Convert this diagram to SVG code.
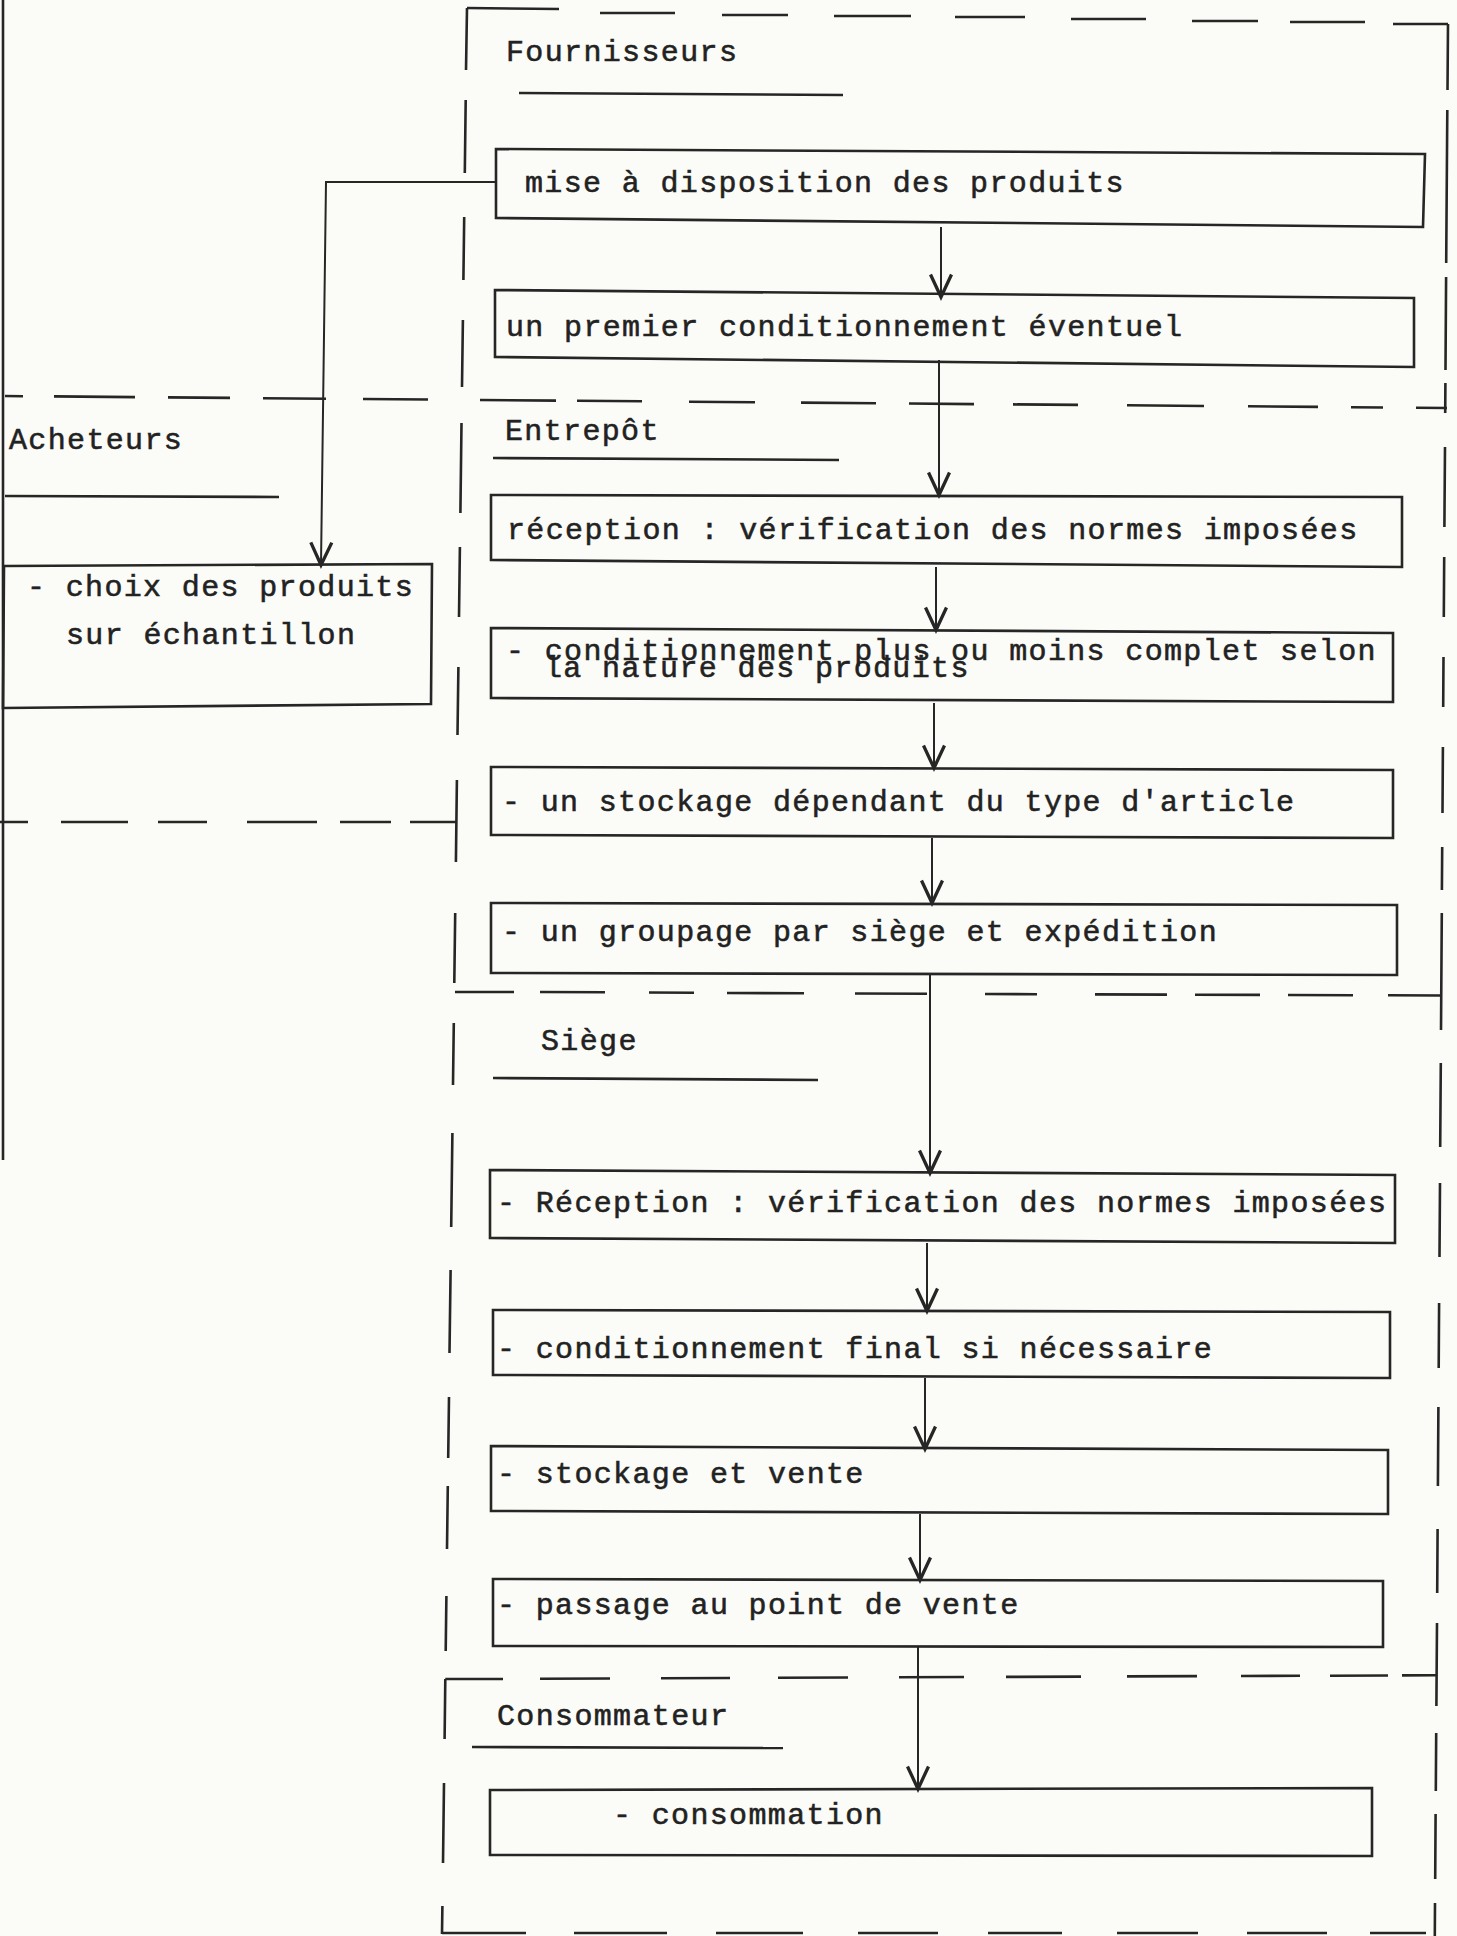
<svg xmlns="http://www.w3.org/2000/svg" width="1457" height="1936" viewBox="0 0 1457 1936">
<style>
.bx{fill:none;stroke:#262626;stroke-width:2.6;stroke-linejoin:miter}
.fr{fill:none;stroke:#262626;stroke-width:2.6;stroke-linecap:butt}
.ul{fill:none;stroke:#262626;stroke-width:2.6}
.cn{fill:none;stroke:#262626;stroke-width:2}
.t{font-family:"Liberation Mono","DejaVu Sans Mono",monospace;font-size:30px;letter-spacing:1.35px;fill:#222;stroke:#222;stroke-width:0.55}
</style>
<defs>
<marker id="ah" markerUnits="userSpaceOnUse" markerWidth="30" markerHeight="30" viewBox="-16 -10 20 20" refX="0" refY="0" orient="auto" overflow="visible">
<path d="M-15,-7 L0,0 L-15,7" fill="none" stroke="#262626" stroke-width="2.2"/>
</marker>
</defs>
<rect x="0" y="0" width="1457" height="1936" fill="#fbfbf7"/>

<g id="frame">
<path class="fr" d="M3,0 L3,1160" stroke-width="2"/>
<path class="fr" d="M467,8 L559,9 M600,13 L675,13 M722,15 L788,15 M834,16 L911,16 M955,17 L1025,17 M1071,19 L1146,19 M1192,21 L1258,21 M1290,22 L1365,22 M1393,24 L1448,24"/>
<path class="fr" d="M467,8 L466,70 M465.7,100 L464.8,173 M464.2,217 L463.4,280 M462.9,320 L462,387 M461.5,423 L460.4,513 M459.9,547 L459,617 M458.4,667 L457.5,735 M456.9,780 L455.9,862 M455.2,913 L454.3,983 M453.8,1023 L453,1085 M452.4,1133 L451.2,1227 M450.6,1270 L449.5,1353 M449,1397 L448.2,1458 M447.8,1486 L447,1549 M446.4,1596 L445.7,1651 M445.3,1679 L444.6,1739 M444,1783 L443,1863 M442.4,1906 L442,1934"/>
<path class="fr" d="M1448,24 L1447.5,90 M1447.3,110 L1446.2,263 M1446.1,277 L1445.5,370 M1445.4,383 L1445.2,413 M1445,447 L1444.4,527 M1444.2,557 L1443.8,617 M1443.5,657 L1443.2,707 M1442.9,747 L1442.5,813 M1442.2,847 L1441.9,890 M1441.8,913 L1441,1030 M1440.8,1063 L1440.2,1147 M1440,1183 L1439.5,1257 M1439.1,1303 L1438.7,1368 M1438.4,1407 L1437.9,1486 M1437.6,1529 L1437.2,1593 M1437,1623 L1436.4,1706 M1436.2,1733 L1435.8,1791 M1435.6,1814 L1435.2,1879 M1435,1903 L1434.8,1936"/>
<path class="fr" d="M5,396 L23,396.2 M54,396.4 L135,397.1 M168,397.4 L230,397.9 M263,398.2 L326,398.7 M363,399 L428,399.5 M480,400 L556,400.6 M577,400.8 L642,401.3 M689,401.7 L755,402.3 M801,402.6 L876,403.3 M909,403.5 L974,404.1 M1013,404.4 L1078,404.9 M1127,405.3 L1204,406 M1248,406.3 L1318,406.9 M1351,407.2 L1383,407.5 M1416,407.7 L1447,408"/>
<path class="fr" d="M0,822 L28,822 M61,822 L128,822 M158,822 L207,822 M247,822 L317,822 M340,822 L391,822 M410,822 L457,822"/>
<path class="fr" d="M455,992 L514,992 M540,992 L605,992.3 M649,992.5 L694,992.7 M727,993 L804,993.3 M855,993.5 L927,993.8 M985,994 L1037,994.2 M1095,994.4 L1167,994.6 M1195,994.7 L1260,994.9 M1288,995 L1353,995.2 M1388,995.3 L1441,995.5"/>
<path class="fr" d="M445.3,1679 L503,1679 M540,1678.8 L610,1678.5 M661,1678.3 L730,1678 M778,1677.8 L848,1677.5 M899,1677.3 L964,1677 M1006,1676.9 L1081,1676.6 M1127,1676.4 L1197,1676.1 M1241,1676 L1300,1675.8 M1330,1675.7 L1388,1675.5 M1402,1675.4 L1436,1675.3"/>
<path class="fr" d="M442,1933 L526,1933 M574,1933 L667,1933 M716,1933 L803,1933 M858,1933 L938,1933 M988,1933 L1062,1933 M1117,1933 L1198,1933 M1247,1933 L1327,1933 M1370,1933 L1426,1933"/>
</g>

<g id="lane-fournisseurs">
<text class="t" x="506" y="61">Fournisseurs</text>
<path class="ul" d="M519,93 L843,95"/>
</g>
<g id="lane-entrepot">
<text class="t" x="505" y="440">Entrepôt</text>
<path class="ul" d="M493,458 L839,460"/>
</g>
<g id="lane-acheteurs">
<text class="t" x="9" y="449">Acheteurs</text>
<path class="ul" d="M5,496 L279,497"/>
</g>
<g id="lane-siege">
<text class="t" x="541" y="1050">Siège</text>
<path class="ul" d="M493,1078 L818,1080"/>
</g>
<g id="lane-consommateur">
<text class="t" x="497" y="1725">Consommateur</text>
<path class="ul" d="M472,1747 L783,1748"/>
</g>

<g id="n-mise">
<path class="bx" d="M496,149 L1425,154 L1423,227 L496,218 Z"/>
<text class="t" x="525" y="192">mise à disposition des produits</text>
</g>
<g id="n-premier">
<path class="bx" d="M495,290 L1414,298 L1414,367 L495,357 Z"/>
<text class="t" x="506" y="336">un premier conditionnement éventuel</text>
</g>
<g id="n-choix">
<path class="bx" d="M4,566 L432,564 L431,704 L3,708 Z"/>
<text class="t" x="27" y="596">- choix des produits</text>
<text class="t" x="66" y="644">sur échantillon</text>
</g>
<g id="n-reception">
<path class="bx" d="M491,495 L1402,497 L1402,567 L491,560 Z"/>
<text class="t" x="507" y="539">réception : vérification des normes imposées</text>
</g>
<g id="n-conditionnement">
<path class="bx" d="M491,628 L1393,633 L1393,702 L491,698 Z"/>
<text class="t" x="506" y="660">- conditionnement plus ou moins complet selon</text>
<text class="t" x="544" y="677">la nature des produits</text>
</g>
<g id="n-stockage">
<path class="bx" d="M491,767 L1393,770 L1393,838 L491,835 Z"/>
<text class="t" x="502" y="811">- un stockage dépendant du type d'article</text>
</g>
<g id="n-groupage">
<path class="bx" d="M491,903 L1397,905 L1397,975 L491,973 Z"/>
<text class="t" x="502" y="941">- un groupage par siège et expédition</text>
</g>
<g id="n-reception-siege">
<path class="bx" d="M490,1170 L1395,1175 L1395,1243 L490,1238 Z"/>
<text class="t" x="497" y="1212">- Réception : vérification des normes imposées</text>
</g>
<g id="n-conditionnement-final">
<path class="bx" d="M493,1310 L1390,1312 L1390,1378 L493,1375 Z"/>
<text class="t" x="497" y="1358">- conditionnement final si nécessaire</text>
</g>
<g id="n-stockage-vente">
<path class="bx" d="M491,1446 L1388,1450 L1388,1514 L491,1511 Z"/>
<text class="t" x="497" y="1483">- stockage et vente</text>
</g>
<g id="n-passage">
<path class="bx" d="M493,1579 L1383,1581 L1383,1647 L493,1646 Z"/>
<text class="t" x="497" y="1614">- passage au point de vente</text>
</g>
<g id="n-consommation">
<path class="bx" d="M490,1790 L1372,1788 L1372,1856 L490,1855 Z"/>
<text class="t" x="613" y="1824">- consommation</text>
</g>

<g id="connectors">
<path class="cn" d="M941,227 L941,297" marker-end="url(#ah)"/>
<path class="cn" d="M939,360 L939,495" marker-end="url(#ah)"/>
<path class="cn" d="M936,567 L936,630" marker-end="url(#ah)"/>
<path class="cn" d="M934,703 L934,768" marker-end="url(#ah)"/>
<path class="cn" d="M932,838 L932,903" marker-end="url(#ah)"/>
<path class="cn" d="M930,975 L930,1173" marker-end="url(#ah)"/>
<path class="cn" d="M927,1243 L927,1311" marker-end="url(#ah)"/>
<path class="cn" d="M925,1378 L925,1449" marker-end="url(#ah)"/>
<path class="cn" d="M920,1514 L920,1580" marker-end="url(#ah)"/>
<path class="cn" d="M918,1647 L918,1789" marker-end="url(#ah)"/>
<path class="cn" d="M496,182 L326,182 L321,565" marker-end="url(#ah)"/>
</g>
</svg>
